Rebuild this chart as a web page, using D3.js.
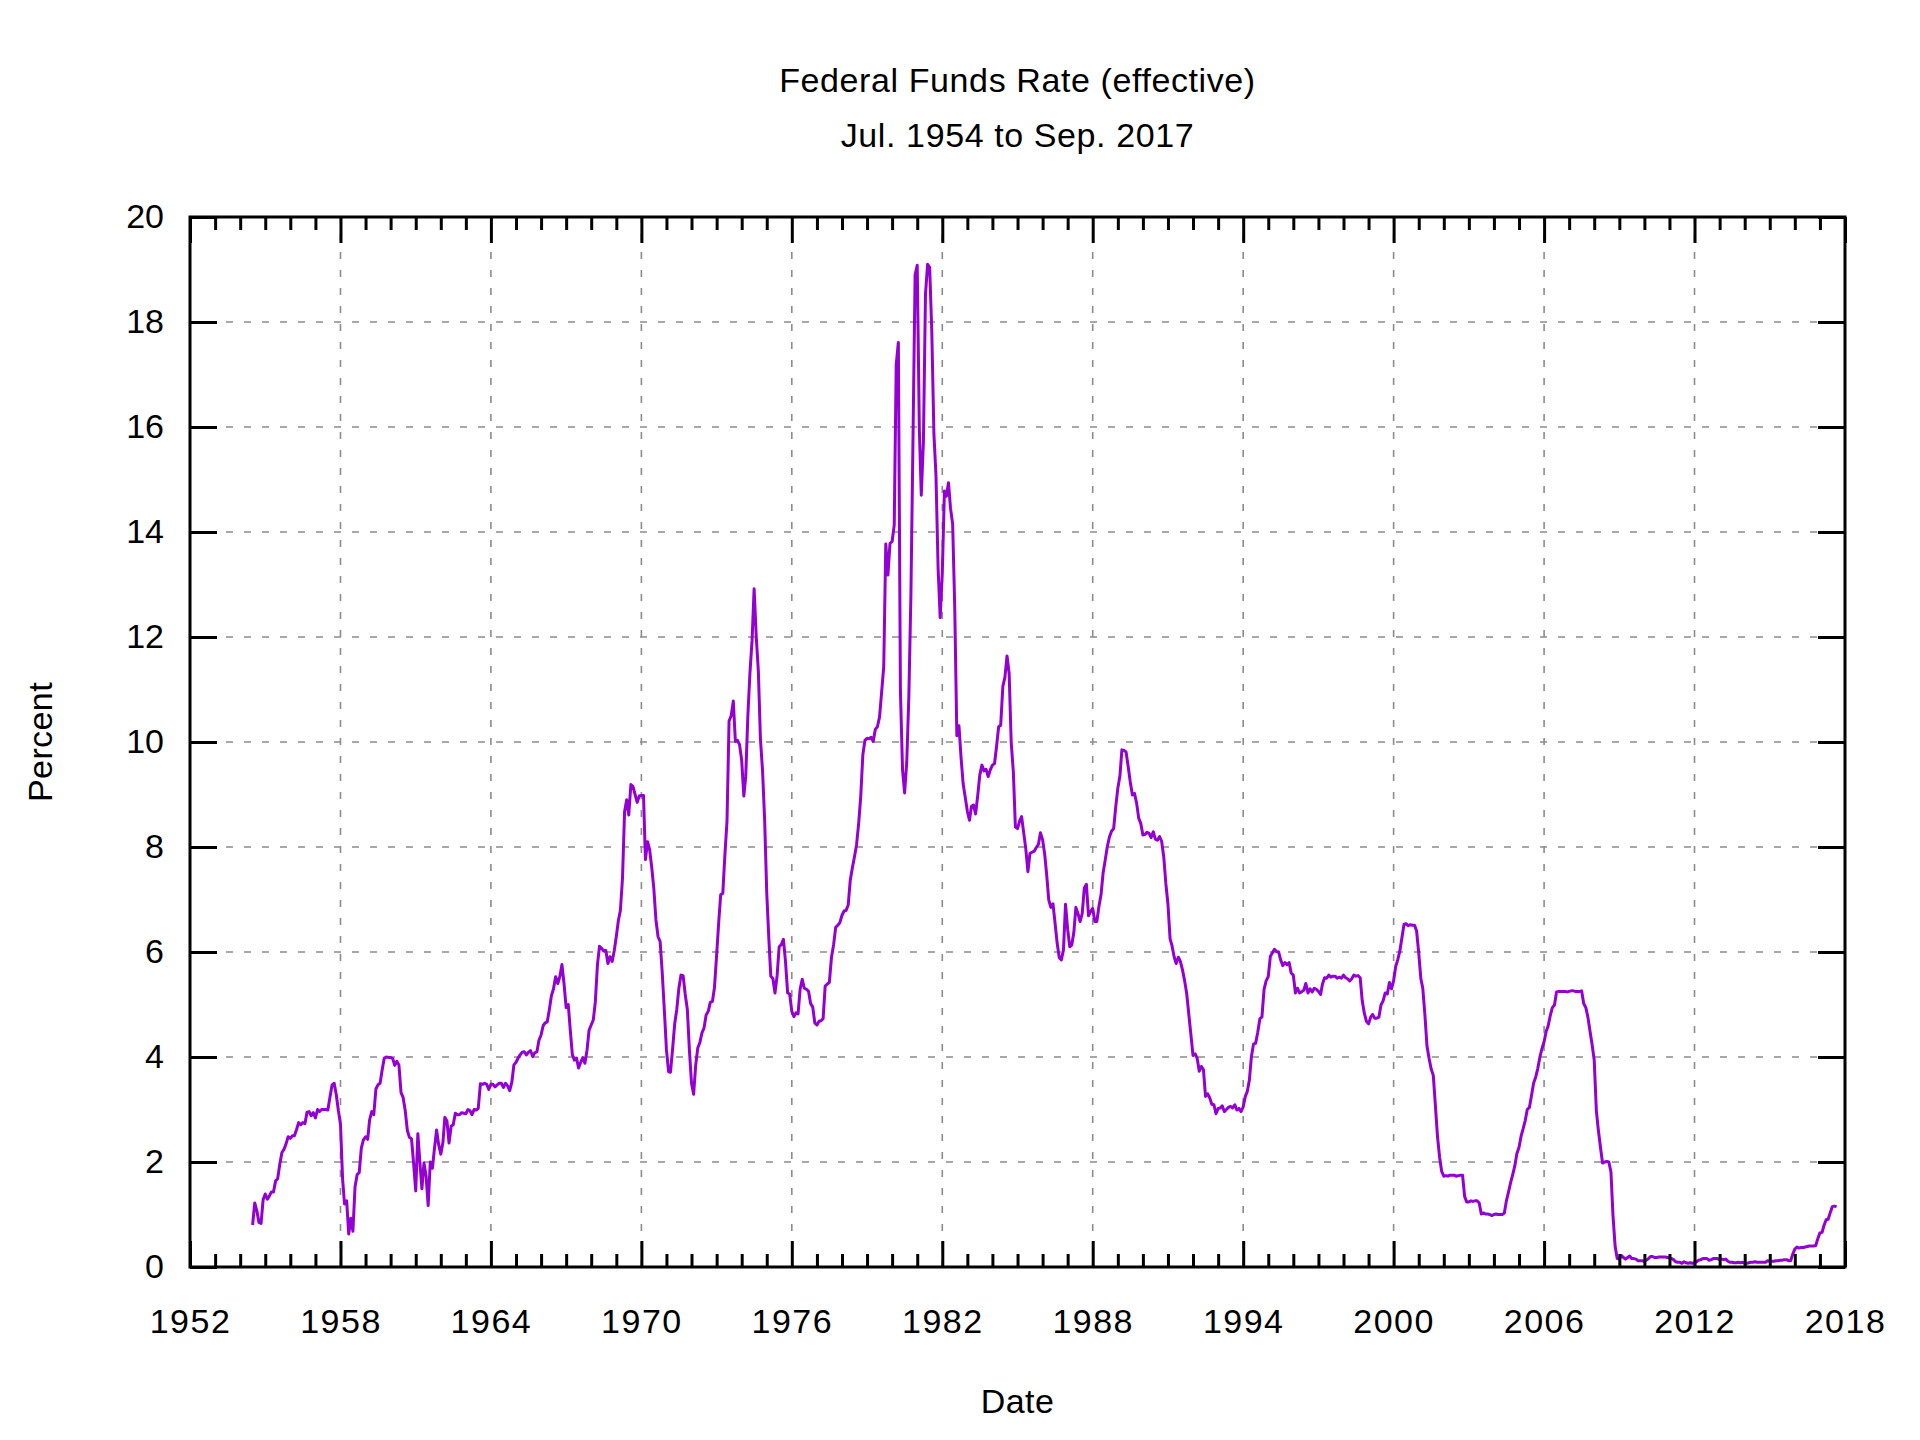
<!DOCTYPE html>
<html>
<head>
<meta charset="utf-8">
<script src="https://cdn.jsdelivr.net/npm/d3@7"></script>
<style>
  body { margin: 0; background: #fff; }
  text { font-family: "Liberation Sans", Arial, sans-serif; fill: #000; }
</style>
</head>
<body>
<svg id="chart" width="1920" height="1440"></svg>
<script>
// monthly effective rate, first value is Jul 1954
var startYear = 1954, startMonth = 7;

var rates1950s = [
  0.80, 1.22, 1.07, 0.85, 0.83, 1.28,
  1.39, 1.29, 1.35, 1.43, 1.43, 1.64, 1.68, 1.96, 2.18, 2.24, 2.35, 2.48,
  2.45, 2.50, 2.50, 2.62, 2.75, 2.71, 2.75, 2.73, 2.95, 2.96, 2.88, 2.94,
  2.84, 3.00, 2.96, 3.00, 3.00, 3.00, 2.99, 3.24, 3.47, 3.50, 3.28, 2.98,
  2.72, 1.67, 1.20, 1.26, 0.63, 0.93, 0.68, 1.53, 1.76, 1.80, 2.27, 2.42,
  2.48, 2.43, 2.80, 2.96, 2.90, 3.39, 3.47, 3.50, 3.76, 3.98, 4.00, 3.99
];
var rates1960s = [
  3.99, 3.97, 3.84, 3.92, 3.85, 3.32, 3.23, 2.98, 2.60, 2.47, 2.44, 1.98,
  1.45, 2.54, 2.02, 1.49, 1.98, 1.73, 1.17, 2.00, 1.88, 2.26, 2.61, 2.33,
  2.15, 2.37, 2.85, 2.78, 2.36, 2.68, 2.71, 2.93, 2.90, 2.90, 2.94, 2.93,
  2.92, 3.00, 2.98, 2.90, 3.00, 2.99, 3.02, 3.49, 3.48, 3.50, 3.48, 3.38,
  3.48, 3.48, 3.43, 3.47, 3.50, 3.50, 3.42, 3.50, 3.45, 3.36, 3.52, 3.85,
  3.90, 3.98, 4.04, 4.09, 4.10, 4.04, 4.09, 4.12, 4.01, 4.08, 4.10, 4.32,
  4.42, 4.60, 4.65, 4.67, 4.90, 5.17, 5.30, 5.53, 5.40, 5.53, 5.76, 5.40,
  4.94, 5.00, 4.53, 4.05, 3.94, 3.98, 3.79, 3.90, 3.99, 3.88, 4.13, 4.51,
  4.61, 4.71, 5.05, 5.76, 6.11, 6.07, 6.02, 6.03, 5.78, 5.91, 5.82, 6.02,
  6.30, 6.61, 6.79, 7.41, 8.67, 8.90, 8.61, 9.19, 9.15, 9.00, 8.85, 8.97
];
var rates1970s = [
  8.98, 8.98, 7.76, 8.10, 7.95, 7.61, 7.21, 6.61, 6.29, 6.20, 5.60, 4.90,
  4.14, 3.72, 3.71, 4.16, 4.63, 4.91, 5.31, 5.56, 5.55, 5.20, 4.91, 4.14,
  3.50, 3.29, 3.83, 4.17, 4.27, 4.46, 4.55, 4.80, 4.87, 5.04, 5.06, 5.33,
  5.94, 6.58, 7.09, 7.12, 7.84, 8.49, 10.40, 10.50, 10.78, 10.01, 10.03, 9.95,
  9.65, 8.97, 9.35, 10.51, 11.31, 11.93, 12.92, 12.01, 11.34, 10.06, 9.45, 8.53,
  7.13, 6.24, 5.54, 5.49, 5.22, 5.55, 6.10, 6.14, 6.24, 5.82, 5.22, 5.20,
  4.87, 4.77, 4.84, 4.82, 5.29, 5.48, 5.31, 5.29, 5.25, 5.02, 4.95, 4.65,
  4.61, 4.68, 4.69, 4.73, 5.35, 5.39, 5.42, 5.90, 6.14, 6.47, 6.51, 6.56,
  6.70, 6.78, 6.79, 6.89, 7.36, 7.60, 7.81, 8.04, 8.45, 8.96, 9.76, 10.03,
  10.07, 10.06, 10.09, 10.01, 10.24, 10.29, 10.47, 10.94, 11.43, 13.77, 13.18, 13.78
];
var rates1980s = [
  13.82, 14.13, 17.19, 17.61, 10.98, 9.47, 9.03, 9.61, 10.87, 12.81, 15.85, 18.90,
  19.08, 15.93, 14.70, 15.72, 18.52, 19.10, 19.04, 17.82, 15.87, 15.08, 13.31, 12.37,
  13.22, 14.78, 14.68, 14.94, 14.45, 14.15, 12.59, 10.12, 10.31, 9.71, 9.20, 8.95,
  8.68, 8.51, 8.77, 8.80, 8.63, 8.98, 9.37, 9.56, 9.45, 9.48, 9.34, 9.47,
  9.56, 9.59, 9.91, 10.29, 10.32, 11.06, 11.23, 11.64, 11.30, 9.99, 9.43, 8.38,
  8.35, 8.50, 8.58, 8.27, 7.97, 7.53, 7.88, 7.90, 7.92, 7.99, 8.05, 8.27,
  8.14, 7.86, 7.48, 6.99, 6.85, 6.92, 6.56, 6.17, 5.89, 5.85, 6.04, 6.91,
  6.43, 6.10, 6.13, 6.37, 6.85, 6.73, 6.58, 6.73, 7.22, 7.29, 6.69, 6.77,
  6.83, 6.58, 6.58, 6.87, 7.09, 7.51, 7.75, 8.01, 8.19, 8.30, 8.35, 8.76,
  9.12, 9.36, 9.85, 9.84, 9.81, 9.53, 9.24, 8.99, 9.02, 8.84, 8.55, 8.45
];
var rates1990s = [
  8.23, 8.24, 8.28, 8.26, 8.18, 8.29, 8.15, 8.13, 8.20, 8.11, 7.81, 7.31,
  6.91, 6.25, 6.12, 5.91, 5.78, 5.90, 5.82, 5.66, 5.45, 5.21, 4.81, 4.43,
  4.03, 4.06, 3.98, 3.73, 3.82, 3.76, 3.25, 3.30, 3.22, 3.10, 3.09, 2.92,
  3.02, 3.03, 3.07, 2.96, 3.00, 3.04, 3.06, 3.03, 3.09, 2.99, 3.02, 2.96,
  3.05, 3.25, 3.34, 3.56, 4.01, 4.25, 4.26, 4.47, 4.73, 4.76, 5.29, 5.45,
  5.53, 5.92, 5.98, 6.05, 6.01, 6.00, 5.85, 5.74, 5.80, 5.76, 5.80, 5.60,
  5.56, 5.22, 5.31, 5.22, 5.24, 5.27, 5.40, 5.22, 5.30, 5.24, 5.31, 5.29,
  5.25, 5.19, 5.39, 5.51, 5.50, 5.56, 5.52, 5.54, 5.54, 5.50, 5.52, 5.50,
  5.56, 5.51, 5.49, 5.45, 5.49, 5.56, 5.54, 5.55, 5.51, 5.07, 4.83, 4.68,
  4.63, 4.76, 4.81, 4.74, 4.74, 4.76, 4.99, 5.07, 5.22, 5.20, 5.42, 5.30
];
var rates2000s = [
  5.45, 5.73, 5.85, 6.02, 6.27, 6.53, 6.54, 6.50, 6.52, 6.51, 6.51, 6.40,
  5.98, 5.49, 5.31, 4.80, 4.21, 3.97, 3.77, 3.65, 3.07, 2.49, 2.09, 1.82,
  1.73, 1.74, 1.73, 1.75, 1.75, 1.75, 1.73, 1.74, 1.75, 1.75, 1.34, 1.24,
  1.24, 1.26, 1.25, 1.26, 1.26, 1.22, 1.01, 1.03, 1.01, 1.01, 1.00, 0.98,
  1.00, 1.01, 1.00, 1.00, 1.00, 1.03, 1.26, 1.43, 1.61, 1.76, 1.93, 2.16,
  2.28, 2.50, 2.63, 2.79, 3.00, 3.04, 3.26, 3.50, 3.62, 3.78, 4.00, 4.16,
  4.29, 4.49, 4.59, 4.79, 4.94, 4.99, 5.24, 5.25, 5.25, 5.25, 5.25, 5.24,
  5.25, 5.26, 5.26, 5.25, 5.25, 5.25, 5.26, 5.02, 4.94, 4.76, 4.49, 4.24,
  3.94, 2.98, 2.61, 2.28, 1.98, 2.00, 2.01, 2.00, 1.81, 0.97, 0.39, 0.16,
  0.15, 0.22, 0.18, 0.15, 0.18, 0.21, 0.16, 0.16, 0.15, 0.12, 0.12, 0.12
];
var rates2010s = [
  0.11, 0.13, 0.16, 0.20, 0.20, 0.18, 0.18, 0.19, 0.19, 0.19, 0.19, 0.18,
  0.17, 0.16, 0.14, 0.10, 0.09, 0.09, 0.07, 0.10, 0.08, 0.07, 0.08, 0.07,
  0.08, 0.10, 0.13, 0.14, 0.16, 0.16, 0.16, 0.13, 0.14, 0.16, 0.16, 0.16,
  0.14, 0.15, 0.14, 0.15, 0.11, 0.09, 0.09, 0.08, 0.08, 0.09, 0.08, 0.09,
  0.07, 0.07, 0.08, 0.09, 0.09, 0.10, 0.09, 0.09, 0.09, 0.09, 0.09, 0.12,
  0.11, 0.11, 0.11, 0.12, 0.12, 0.13, 0.13, 0.14, 0.14, 0.12, 0.12, 0.24,
  0.34, 0.38, 0.36, 0.37, 0.37, 0.38, 0.39, 0.40, 0.40, 0.40, 0.41, 0.54,
  0.65, 0.66, 0.79, 0.90, 0.91, 1.04, 1.15, 1.16, 1.15
];

var xTickYears = [1952, 1958, 1964, 1970, 1976, 1982, 1988, 1994, 2000, 2006, 2012, 2018];
var yTickValues = [0, 2, 4, 6, 8, 10, 12, 14, 16, 18, 20];
var titleLines = ["Federal Funds Rate (effective)", "Jul. 1954 to Sep. 2017"];

var rates = [].concat(rates1950s, rates1960s, rates1970s, rates1980s, rates1990s, rates2000s, rates2010s);
var data = rates.map(function(v, i) {
  return { date: new Date(Date.UTC(startYear, startMonth - 1 + i, 1)), value: v };
});

var plotL = 190, plotR = 1845, plotT = 217, plotB = 1267;
var svg = d3.select('#chart');

var x = d3.scaleUtc()
  .domain([new Date(Date.UTC(1952, 0, 1)), new Date(Date.UTC(2018, 0, 1))])
  .range([plotL, plotR]);
var y = d3.scaleLinear().domain([0, 20]).range([plotB, plotT]);

var yearDate = function(yr) { return new Date(Date.UTC(yr, 0, 1)); };
var majorDates = xTickYears.map(yearDate);
var minorDates = d3.range(1952, 2019).filter(function(yr) { return (yr - 1952) % 6 !== 0; }).map(yearDate);

// grid
var grid = svg.append('g').attr('class', 'grid')
  .attr('stroke', '#8c8c8c').attr('stroke-width', 1.6).attr('stroke-dasharray', '7,11');
grid.selectAll('.gx').data(majorDates.slice(1, -1)).enter().append('line')
  .attr('x1', function(d) { return x(d); }).attr('x2', function(d) { return x(d); })
  .attr('y1', plotB).attr('y2', plotT);
grid.selectAll('.gy').data(yTickValues.slice(1, -1)).enter().append('line')
  .attr('y1', function(d) { return y(d); }).attr('y2', function(d) { return y(d); })
  .attr('x1', plotL).attr('x2', plotR);

// the series
var line = d3.line()
  .x(function(d) { return x(d.date); })
  .y(function(d) { return y(d.value); });
svg.append('path').datum(data)
  .attr('d', line)
  .attr('fill', 'none')
  .attr('stroke', '#9400d3')
  .attr('stroke-width', 3)
  .attr('stroke-linejoin', 'round');

// axes, ticks pointing inward
function styleAxis(spacing) {
  return function(g) {
    g.select('.domain').remove();
    g.selectAll('line').attr('stroke', '#000').attr('stroke-width', 3);
    g.selectAll('text').attr('font-size', 34).attr('letter-spacing', spacing + 'px')
      .attr('font-family', '"Liberation Sans", Arial, sans-serif').attr('fill', '#000');
  };
}
var fmtYear = d3.utcFormat('%Y');

svg.append('g').attr('transform', 'translate(0,' + plotB + ')')
  .call(d3.axisBottom(x).tickValues(majorDates).tickSize(-26).tickPadding(42).tickFormat(fmtYear))
  .call(styleAxis(1.5));
svg.append('g').attr('transform', 'translate(0,' + plotB + ')')
  .call(d3.axisBottom(x).tickValues(minorDates).tickSize(-13).tickFormat(''))
  .call(styleAxis(0));
svg.append('g').attr('transform', 'translate(0,' + plotT + ')')
  .call(d3.axisTop(x).tickValues(majorDates).tickSize(-26).tickFormat(''))
  .call(styleAxis(0));
svg.append('g').attr('transform', 'translate(0,' + plotT + ')')
  .call(d3.axisTop(x).tickValues(minorDates).tickSize(-13).tickFormat(''))
  .call(styleAxis(0));
svg.append('g').attr('transform', 'translate(' + plotL + ',0)')
  .call(d3.axisLeft(y).tickValues(yTickValues).tickSize(-27).tickPadding(26))
  .call(styleAxis(0));
svg.append('g').attr('transform', 'translate(' + plotR + ',0)')
  .call(d3.axisRight(y).tickValues(yTickValues).tickSize(-27).tickFormat(''))
  .call(styleAxis(0));

// border
svg.append('rect')
  .attr('x', plotL).attr('y', plotT)
  .attr('width', plotR - plotL).attr('height', plotB - plotT)
  .attr('fill', 'none').attr('stroke', '#000').attr('stroke-width', 3);

// titles
svg.selectAll('.title').data(titleLines).enter().append('text')
  .attr('class', 'title')
  .attr('x', (plotL + plotR) / 2)
  .attr('y', function(d, i) { return 92 + i * 55; })
  .attr('text-anchor', 'middle')
  .attr('font-size', 34).attr('letter-spacing', '0.6px')
  .text(function(d) { return d; });

svg.append('text')
  .attr('x', (plotL + plotR) / 2).attr('y', 1413)
  .attr('text-anchor', 'middle')
  .attr('font-size', 34).attr('letter-spacing', '0.4px')
  .text('Date');

svg.append('text')
  .attr('transform', 'translate(52,' + (plotT + plotB) / 2 + ') rotate(-90)')
  .attr('text-anchor', 'middle')
  .attr('font-size', 34).attr('letter-spacing', '0.4px')
  .text('Percent');
</script>
</body>
</html>
